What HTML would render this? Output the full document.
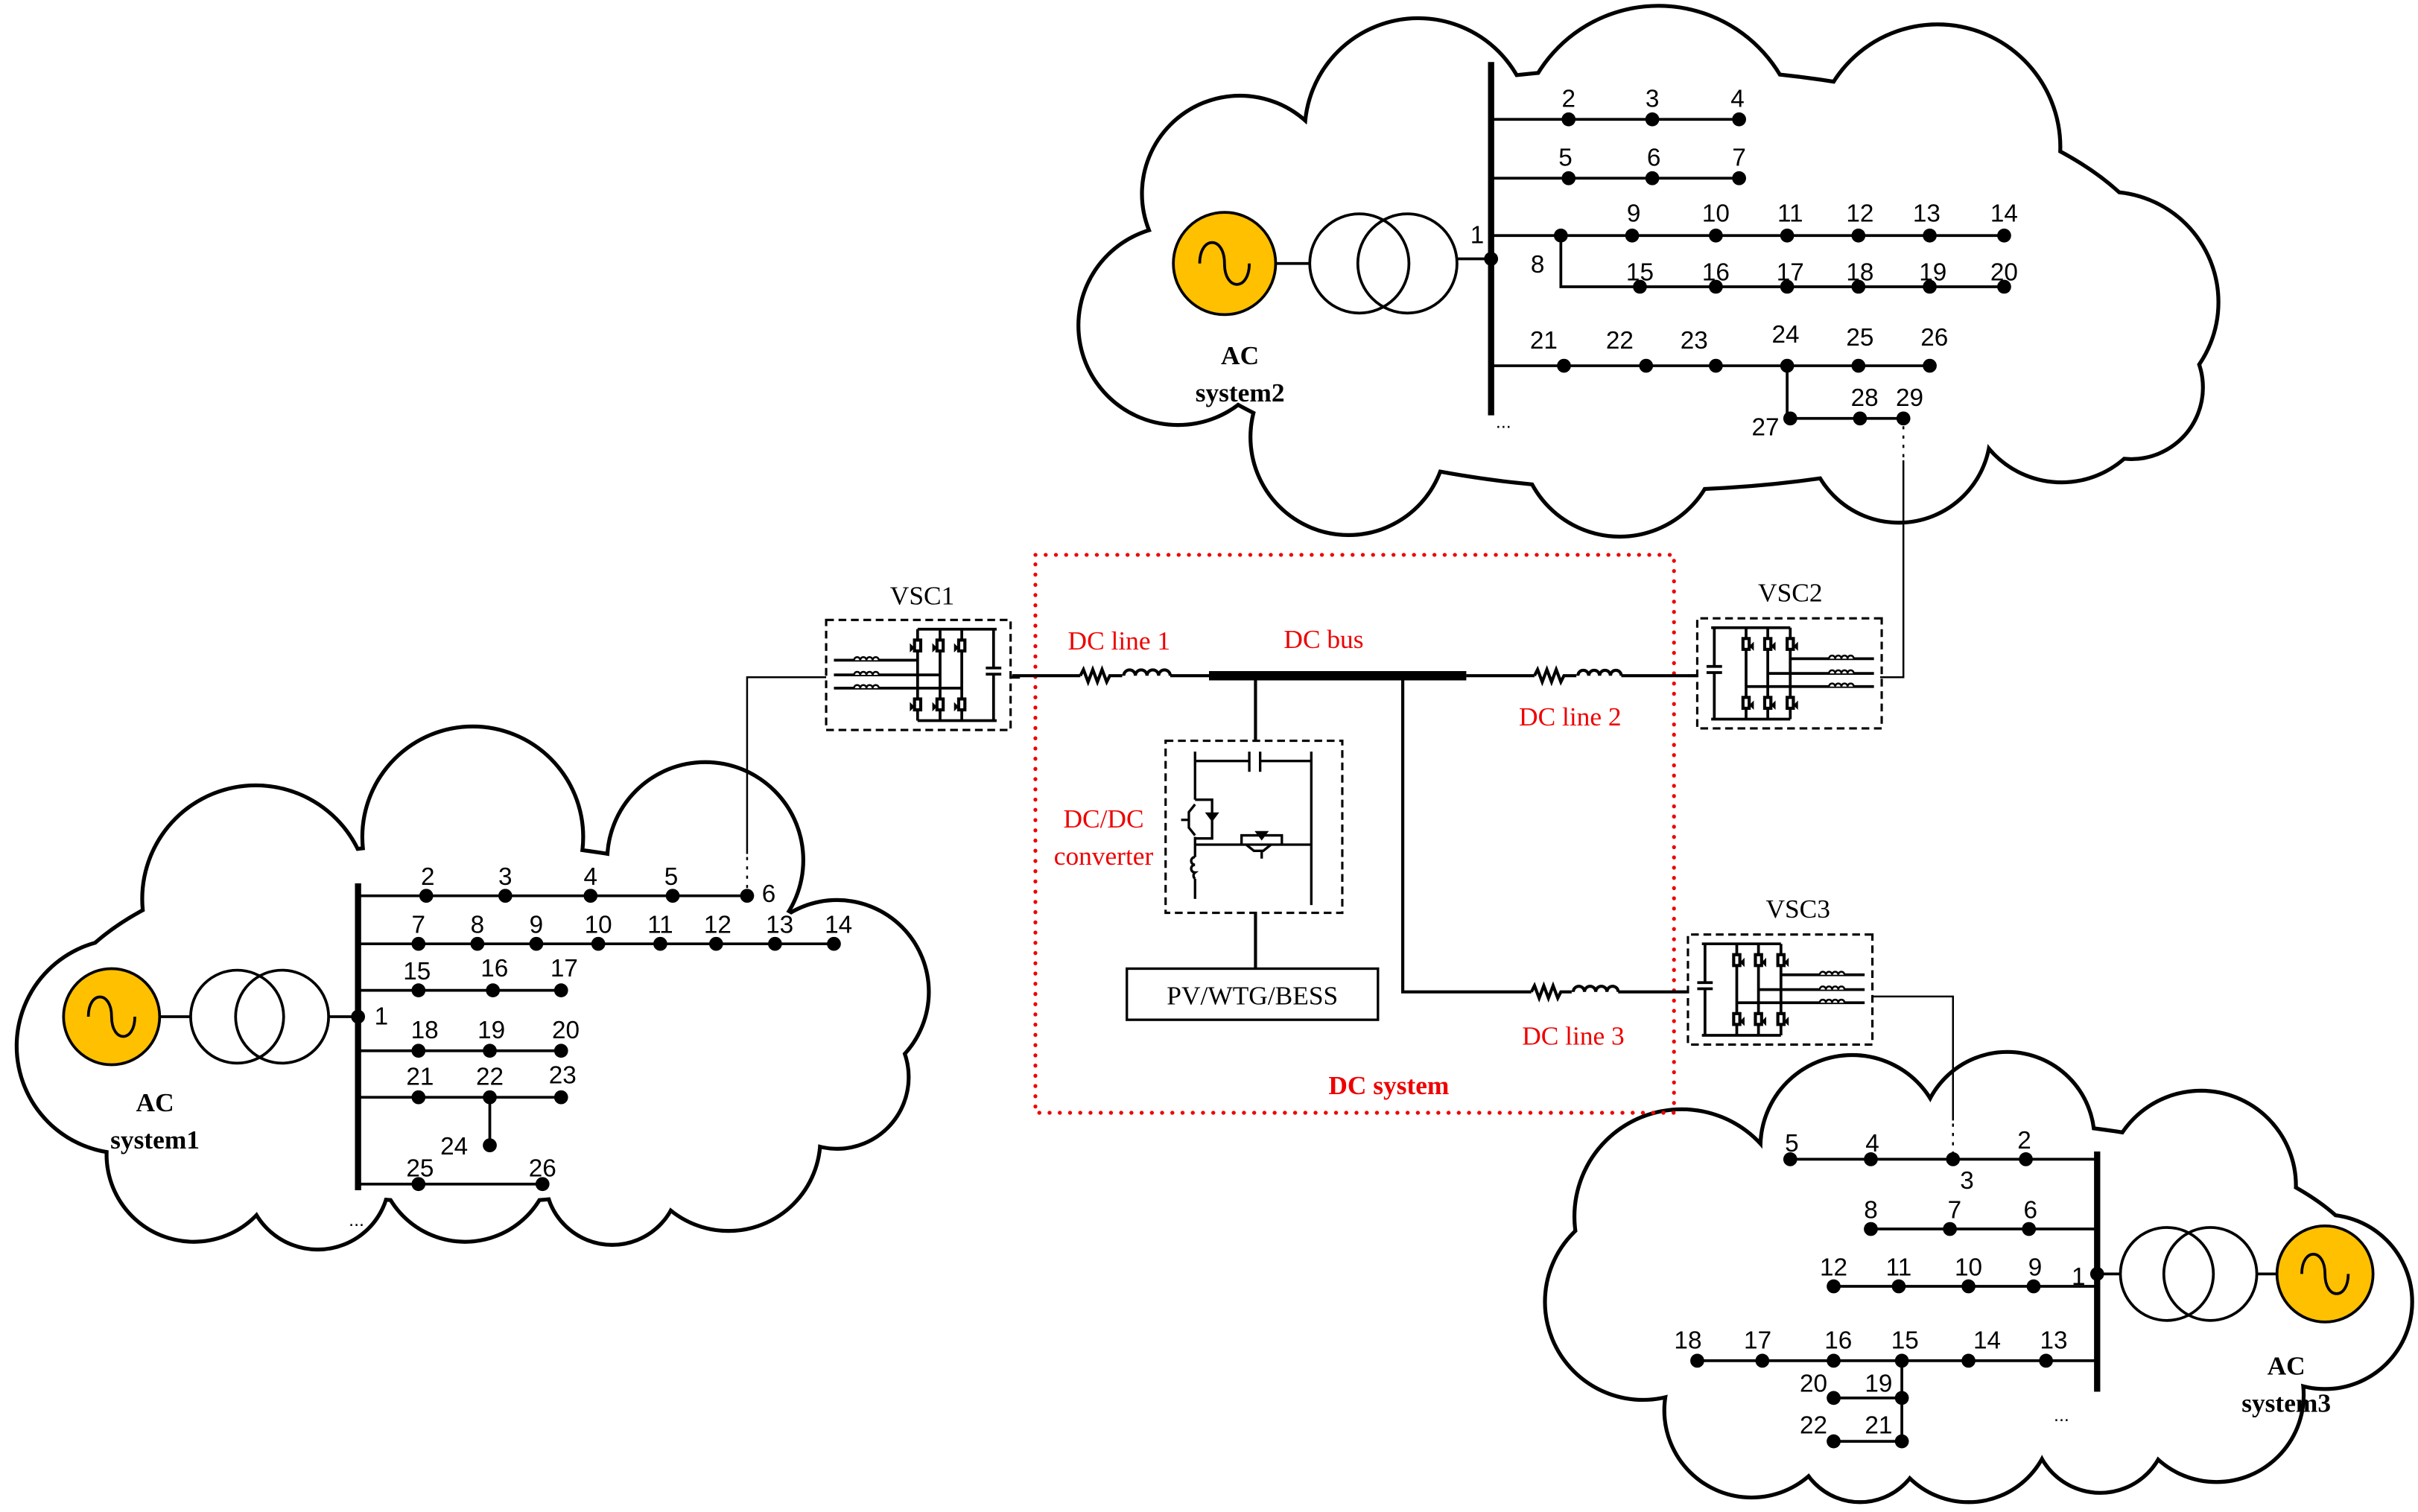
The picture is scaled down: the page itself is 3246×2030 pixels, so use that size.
<!DOCTYPE html>
<html><head><meta charset="utf-8"><style>
html,body{margin:0;padding:0;background:#fff}
svg{display:block}
.n{font-family:"Liberation Sans",sans-serif;font-size:16px;fill:#000;text-anchor:middle}
.s{font-family:"Liberation Serif",serif;font-size:17px;fill:#000;text-anchor:middle}
.b{font-family:"Liberation Serif",serif;font-size:17px;font-weight:bold;fill:#000;text-anchor:middle}
.r{font-family:"Liberation Serif",serif;font-size:17px;fill:#e00;text-anchor:middle}
.rb{font-family:"Liberation Serif",serif;font-size:17px;font-weight:bold;fill:#e00;text-anchor:middle}
</style></head><body>
<svg width="3246" height="2030" viewBox="0 0 1560 975.6" preserveAspectRatio="none" xmlns="http://www.w3.org/2000/svg">
<defs>
<g id="vsc">
 <rect x="0" y="0" width="119" height="71" fill="none" stroke="#000" stroke-width="1.5" stroke-dasharray="5,3"/>
 <g stroke="#000" stroke-width="1.8" fill="none">
  <line x1="5" y1="26" x2="59" y2="26"/><line x1="5" y1="35.5" x2="73.5" y2="35.5"/><line x1="5" y1="44" x2="87.5" y2="44"/>
  <line x1="59" y1="6" x2="59" y2="65"/><line x1="73.5" y1="6" x2="73.5" y2="65"/><line x1="87.5" y1="6" x2="87.5" y2="65"/>
  <line x1="59" y1="6" x2="110" y2="6"/><line x1="59" y1="65" x2="110" y2="65"/>
  <line x1="108" y1="6" x2="108" y2="31"/><line x1="108" y1="35" x2="108" y2="65"/>
  <line x1="103" y1="31" x2="113" y2="31"/><line x1="103" y1="35" x2="113" y2="35"/>
  <line x1="119" y1="37" x2="125" y2="37"/>
 </g>
 <g fill="#fff" stroke="#000" stroke-width="1.2">
  <path d="M18 26 a2 2 0 0 1 4 0 a2 2 0 0 1 4 0 a2 2 0 0 1 4 0 a2 2 0 0 1 4 0"/>
  <path d="M18 35.5 a2 2 0 0 1 4 0 a2 2 0 0 1 4 0 a2 2 0 0 1 4 0 a2 2 0 0 1 4 0"/>
  <path d="M18 44 a2 2 0 0 1 4 0 a2 2 0 0 1 4 0 a2 2 0 0 1 4 0 a2 2 0 0 1 4 0"/>
 </g>
 <g fill="#000">
  <path d="M56 12 h6 v9 h-6 z M54 15 l3 3 -3 3z"/><path d="M70.5 12 h6 v9 h-6 z M68.5 15 l3 3 -3 3z"/><path d="M84.5 12 h6 v9 h-6 z M82.5 15 l3 3 -3 3z"/>
  <path d="M56 50 h6 v9 h-6 z M54 53 l3 3 -3 3z"/><path d="M70.5 50 h6 v9 h-6 z M68.5 53 l3 3 -3 3z"/><path d="M84.5 50 h6 v9 h-6 z M82.5 53 l3 3 -3 3z"/>
 </g>
 <g fill="#fff"><rect x="58" y="14" width="2" height="5"/><rect x="72.5" y="14" width="2" height="5"/><rect x="86.5" y="14" width="2" height="5"/><rect x="58" y="52" width="2" height="5"/><rect x="72.5" y="52" width="2" height="5"/><rect x="86.5" y="52" width="2" height="5"/></g>
</g>
<g id="c2">
 <ellipse cx="1065" cy="180" rx="330" ry="135"/>
 <circle cx="800" cy="125" r="62"/><circle cx="915" cy="85" r="72"/><circle cx="1070" cy="95" r="90"/><circle cx="1250" cy="95" r="78"/>
 <circle cx="1360" cy="195" r="70"/><circle cx="760" cy="210" r="63"/><circle cx="870" cy="282" r="62"/><circle cx="1045" cy="282" r="63"/><circle cx="1225" cy="278" r="58"/><circle cx="1330" cy="250" r="60"/><circle cx="1375" cy="250" r="45"/>
</g>
<g id="c1">
 <ellipse cx="300" cy="660" rx="265" ry="115"/>
 <circle cx="165" cy="580" r="72"/><circle cx="305" cy="540" r="70"/><circle cx="455" cy="555" r="62"/><circle cx="540" cy="640" r="58"/>
 <circle cx="80" cy="675" r="68"/><circle cx="125" cy="745" r="55"/><circle cx="300" cy="745" r="55"/><circle cx="470" cy="735" r="58"/><circle cx="205" cy="760" r="45"/><circle cx="540" cy="695" r="45"/><circle cx="395" cy="760" r="42"/>
</g>
<g id="c3">
 <ellipse cx="1280" cy="830" rx="250" ry="105"/>
 <circle cx="1085" cy="785" r="68"/><circle cx="1195" cy="740" r="58"/><circle cx="1295" cy="735" r="55"/><circle cx="1420" cy="765" r="60"/>
 <circle cx="1500" cy="840" r="55"/><circle cx="1060" cy="840" r="62"/><circle cx="1130" cy="910" r="55"/><circle cx="1270" cy="915" r="53"/><circle cx="1430" cy="900" r="55"/><circle cx="1200" cy="928" r="40"/><circle cx="1355" cy="920" r="42"/>
</g>
</defs>

<g stroke="#000" stroke-width="5" fill="#000"><use href="#c2"/><use href="#c1"/><use href="#c3"/></g>
<g fill="#fff"><use href="#c2"/><use href="#c1"/><use href="#c3"/></g>

<!-- ===== AC system 2 ===== -->
<g stroke="#000" stroke-width="1.8" fill="none">
 <circle cx="790" cy="170" r="33" fill="#ffc000"/>
 <path d="M774 170 c0 -18 16 -18 16 0 c0 18 16 18 16 0"/>
 <circle cx="877" cy="170" r="32"/><circle cx="908" cy="170" r="32"/>
 <line x1="823" y1="170" x2="845" y2="170"/><line x1="940" y1="167" x2="962" y2="167"/>
 <line x1="962" y1="40" x2="962" y2="268" stroke-width="4"/>
 <line x1="962" y1="77" x2="1122" y2="77"/>
 <line x1="962" y1="115" x2="1122" y2="115"/>
 <line x1="962" y1="152" x2="1293" y2="152"/>
 <polyline points="1007,152 1007,185 1293,185"/>
 <line x1="962" y1="236" x2="1245" y2="236"/>
 <polyline points="1153,236 1153,270 1228,270"/>
 <line x1="1228" y1="275" x2="1228" y2="295" stroke-dasharray="2,4" stroke-width="1.2"/>
 <polyline points="1228,297 1228,437 1213,437" stroke-width="1.2"/>
</g>
<g fill="#000">
 <circle cx="962" cy="167" r="4.5"/>
 <circle cx="1012" cy="77" r="4.5"/><circle cx="1066" cy="77" r="4.5"/><circle cx="1122" cy="77" r="4.5"/>
 <circle cx="1012" cy="115" r="4.5"/><circle cx="1066" cy="115" r="4.5"/><circle cx="1122" cy="115" r="4.5"/>
 <circle cx="1007" cy="152" r="4.5"/><circle cx="1053" cy="152" r="4.5"/><circle cx="1107" cy="152" r="4.5"/><circle cx="1153" cy="152" r="4.5"/><circle cx="1199" cy="152" r="4.5"/><circle cx="1245" cy="152" r="4.5"/><circle cx="1293" cy="152" r="4.5"/>
 <circle cx="1058" cy="185" r="4.5"/><circle cx="1107" cy="185" r="4.5"/><circle cx="1153" cy="185" r="4.5"/><circle cx="1199" cy="185" r="4.5"/><circle cx="1245" cy="185" r="4.5"/><circle cx="1293" cy="185" r="4.5"/>
 <circle cx="1009" cy="236" r="4.5"/><circle cx="1062" cy="236" r="4.5"/><circle cx="1107" cy="236" r="4.5"/><circle cx="1153" cy="236" r="4.5"/><circle cx="1199" cy="236" r="4.5"/><circle cx="1245" cy="236" r="4.5"/>
 <circle cx="1155" cy="270" r="4.5"/><circle cx="1200" cy="270" r="4.5"/><circle cx="1228" cy="270" r="4.5"/>
</g>
<g class="n">
 <text x="953" y="157">1</text>
 <text x="1012" y="69">2</text><text x="1066" y="69">3</text><text x="1121" y="69">4</text>
 <text x="1010" y="107">5</text><text x="1067" y="107">6</text><text x="1122" y="107">7</text>
 <text x="1054" y="143">9</text><text x="1107" y="143">10</text><text x="1155" y="143">11</text><text x="1200" y="143">12</text><text x="1243" y="143">13</text><text x="1293" y="143">14</text>
 <text x="992" y="176">8</text>
 <text x="1058" y="181">15</text><text x="1107" y="181">16</text><text x="1155" y="181">17</text><text x="1200" y="181">18</text><text x="1247" y="181">19</text><text x="1293" y="181">20</text>
 <text x="996" y="225">21</text><text x="1045" y="225">22</text><text x="1093" y="225">23</text><text x="1152" y="221">24</text><text x="1200" y="223">25</text><text x="1248" y="223">26</text>
 <text x="1203" y="262">28</text><text x="1232" y="262">29</text><text x="1139" y="281">27</text>
 <text x="970" y="276" style="font-size:12px">...</text>
</g>
<text class="b" x="800" y="235">AC</text><text class="b" x="800" y="259">system2</text>

<!-- ===== AC system 1 ===== -->
<g stroke="#000" stroke-width="1.8" fill="none">
 <circle cx="72" cy="656" r="31" fill="#ffc000"/>
 <path d="M57 656 c0 -17 15 -17 15 0 c0 17 15 17 15 0"/>
 <circle cx="153" cy="656" r="30"/><circle cx="182" cy="656" r="30"/>
 <line x1="103" y1="656" x2="123" y2="656"/><line x1="212" y1="656" x2="231" y2="656"/>
 <line x1="231" y1="570" x2="231" y2="768" stroke-width="4"/>
 <line x1="231" y1="578" x2="482" y2="578"/>
 <line x1="231" y1="609" x2="538" y2="609"/>
 <line x1="231" y1="639" x2="362" y2="639"/>
 <line x1="231" y1="678" x2="362" y2="678"/>
 <line x1="231" y1="708" x2="362" y2="708"/>
 <line x1="316" y1="708" x2="316" y2="739"/>
 <line x1="231" y1="764" x2="350" y2="764"/>
 <line x1="482" y1="553" x2="482" y2="573" stroke-dasharray="2,4" stroke-width="1.2"/>
 <polyline points="482,551 482,437 533,437" stroke-width="1.2"/>
</g>
<g fill="#000">
 <circle cx="231" cy="656" r="4.5"/>
 <circle cx="275" cy="578" r="4.5"/><circle cx="326" cy="578" r="4.5"/><circle cx="381" cy="578" r="4.5"/><circle cx="434" cy="578" r="4.5"/><circle cx="482" cy="578" r="4.5"/>
 <circle cx="270" cy="609" r="4.5"/><circle cx="308" cy="609" r="4.5"/><circle cx="346" cy="609" r="4.5"/><circle cx="386" cy="609" r="4.5"/><circle cx="426" cy="609" r="4.5"/><circle cx="462" cy="609" r="4.5"/><circle cx="500" cy="609" r="4.5"/><circle cx="538" cy="609" r="4.5"/>
 <circle cx="270" cy="639" r="4.5"/><circle cx="318" cy="639" r="4.5"/><circle cx="362" cy="639" r="4.5"/>
 <circle cx="270" cy="678" r="4.5"/><circle cx="316" cy="678" r="4.5"/><circle cx="362" cy="678" r="4.5"/>
 <circle cx="270" cy="708" r="4.5"/><circle cx="316" cy="708" r="4.5"/><circle cx="362" cy="708" r="4.5"/>
 <circle cx="316" cy="739" r="4.5"/>
 <circle cx="270" cy="764" r="4.5"/><circle cx="350" cy="764" r="4.5"/>
</g>
<g class="n">
 <text x="246" y="661">1</text>
 <text x="276" y="571">2</text><text x="326" y="571">3</text><text x="381" y="571">4</text><text x="433" y="571">5</text><text x="496" y="582">6</text>
 <text x="270" y="602">7</text><text x="308" y="602">8</text><text x="346" y="602">9</text><text x="386" y="602">10</text><text x="426" y="602">11</text><text x="463" y="602">12</text><text x="503" y="602">13</text><text x="541" y="602">14</text>
 <text x="269" y="632">15</text><text x="319" y="630">16</text><text x="364" y="630">17</text>
 <text x="274" y="670">18</text><text x="317" y="670">19</text><text x="365" y="670">20</text>
 <text x="271" y="700">21</text><text x="316" y="700">22</text><text x="363" y="699">23</text>
 <text x="293" y="745">24</text>
 <text x="271" y="759">25</text><text x="350" y="759">26</text>
 <text x="230" y="791" style="font-size:12px">...</text>
</g>
<text class="b" x="100" y="717">AC</text><text class="b" x="100" y="741">system1</text>

<!-- ===== AC system 3 ===== -->
<g stroke="#000" stroke-width="1.8" fill="none">
 <circle cx="1500" cy="822" r="31" fill="#ffc000"/>
 <path d="M1485 822 c0 -17 15 -17 15 0 c0 17 15 17 15 0"/>
 <circle cx="1398" cy="822" r="30"/><circle cx="1426" cy="822" r="30"/>
 <line x1="1353" y1="822" x2="1368" y2="822"/><line x1="1456" y1="822" x2="1469" y2="822"/>
 <line x1="1353" y1="743" x2="1353" y2="898" stroke-width="4"/>
 <line x1="1155" y1="748" x2="1353" y2="748"/>
 <line x1="1207" y1="793" x2="1353" y2="793"/>
 <line x1="1183" y1="830" x2="1353" y2="830"/>
 <line x1="1095" y1="878" x2="1353" y2="878"/>
 <line x1="1227" y1="878" x2="1227" y2="930"/>
 <line x1="1183" y1="902" x2="1227" y2="902"/>
 <line x1="1183" y1="930" x2="1227" y2="930"/>
 <line x1="1260" y1="725" x2="1260" y2="745" stroke-dasharray="2,4" stroke-width="1.2"/>
 <polyline points="1260,723 1260,643 1208,643" stroke-width="1.2"/>
</g>
<g fill="#000">
 <circle cx="1353" cy="822" r="4.5"/>
 <circle cx="1155" cy="748" r="4.5"/><circle cx="1207" cy="748" r="4.5"/><circle cx="1260" cy="748" r="4.5"/><circle cx="1307" cy="748" r="4.5"/>
 <circle cx="1207" cy="793" r="4.5"/><circle cx="1258" cy="793" r="4.5"/><circle cx="1309" cy="793" r="4.5"/>
 <circle cx="1183" cy="830" r="4.5"/><circle cx="1225" cy="830" r="4.5"/><circle cx="1270" cy="830" r="4.5"/><circle cx="1312" cy="830" r="4.5"/>
 <circle cx="1095" cy="878" r="4.5"/><circle cx="1137" cy="878" r="4.5"/><circle cx="1183" cy="878" r="4.5"/><circle cx="1227" cy="878" r="4.5"/><circle cx="1270" cy="878" r="4.5"/><circle cx="1320" cy="878" r="4.5"/>
 <circle cx="1183" cy="902" r="4.5"/><circle cx="1227" cy="902" r="4.5"/>
 <circle cx="1183" cy="930" r="4.5"/><circle cx="1227" cy="930" r="4.5"/>
</g>
<g class="n">
 <text x="1341" y="829">1</text>
 <text x="1156" y="743">5</text><text x="1208" y="743">4</text><text x="1269" y="767">3</text><text x="1306" y="741">2</text>
 <text x="1207" y="786">8</text><text x="1261" y="786">7</text><text x="1310" y="786">6</text>
 <text x="1183" y="823">12</text><text x="1225" y="823">11</text><text x="1270" y="823">10</text><text x="1313" y="823">9</text>
 <text x="1089" y="870">18</text><text x="1134" y="870">17</text><text x="1186" y="870">16</text><text x="1229" y="870">15</text><text x="1282" y="870">14</text><text x="1325" y="870">13</text>
 <text x="1170" y="898">20</text><text x="1212" y="898">19</text>
 <text x="1170" y="925">22</text><text x="1212" y="925">21</text>
 <text x="1330" y="917" style="font-size:12px">...</text>
</g>
<text class="b" x="1475" y="887">AC</text><text class="b" x="1475" y="911">system3</text>

<!-- ===== DC system ===== -->
<rect x="668" y="358" width="412" height="360" fill="none" stroke="#e00" stroke-width="2.5" stroke-dasharray="0.1,6.5" stroke-linecap="round"/>
<use href="#vsc" transform="translate(533,400)"/>
<use href="#vsc" transform="translate(1214,399) scale(-1,1)"/>
<use href="#vsc" transform="translate(1208,603) scale(-1,1)"/>
<text class="s" x="595" y="390">VSC1</text>
<text class="s" x="1155" y="388">VSC2</text>
<text class="s" x="1160" y="592">VSC3</text>

<g stroke="#000" stroke-width="2" fill="none">
 <line x1="653" y1="436" x2="697" y2="436"/>
 <path d="M697 436 l2 -4 l3 8 l3 -8 l3 8 l3 -8 l3 8 l2 -4 h8"/>
 <path d="M725 436 a3.75 3.75 0 0 1 7.5 0 a3.75 3.75 0 0 1 7.5 0 a3.75 3.75 0 0 1 7.5 0 a3.75 3.75 0 0 1 7.5 0"/>
 <line x1="755" y1="436" x2="780" y2="436"/>
 <line x1="780" y1="436" x2="946" y2="436" stroke-width="6"/>
 <line x1="946" y1="436" x2="990" y2="436"/>
 <path d="M990 436 l2 -4 l3 8 l3 -8 l3 8 l3 -8 l3 8 l2 -4 h8"/>
 <path d="M1018 436 a3.5 3.5 0 0 1 7 0 a3.5 3.5 0 0 1 7 0 a3.5 3.5 0 0 1 7 0 a3.5 3.5 0 0 1 7 0"/>
 <line x1="1046" y1="436" x2="1095" y2="436"/>
 <line x1="810" y1="436" x2="810" y2="478"/>
 <polyline points="905,436 905,640 988,640"/>
 <path d="M988 640 l2 -4 l3 8 l3 -8 l3 8 l3 -8 l3 8 l2 -4 h7"/>
 <path d="M1015 640 a3.6 3.6 0 0 1 7.25 0 a3.6 3.6 0 0 1 7.25 0 a3.6 3.6 0 0 1 7.25 0 a3.6 3.6 0 0 1 7.25 0"/>
 <line x1="1044" y1="640" x2="1088" y2="640"/>
 <line x1="810" y1="589" x2="810" y2="625"/>
</g>
<rect x="752" y="478" width="114" height="111" fill="none" stroke="#000" stroke-width="1.5" stroke-dasharray="5,3"/>
<g stroke="#000" stroke-width="1.6" fill="none">
 <line x1="771" y1="485" x2="771" y2="516"/>
 <line x1="771" y1="540" x2="771" y2="553"/>
 <line x1="771" y1="567" x2="771" y2="580"/>
 <line x1="846" y1="485" x2="846" y2="584"/>
 <line x1="771" y1="491" x2="806" y2="491"/><line x1="813" y1="491" x2="846" y2="491"/>
 <line x1="806" y1="485" x2="806" y2="498"/><line x1="813" y1="485" x2="813" y2="498"/>
 <path d="M771 516 h11 v25 h-11"/>
 <path d="M771 519 l-4 5 v10 l4 5 M762 529 h5"/>
 <path d="M779 525 l3 4 l3 -4 z" fill="#000"/>
 <line x1="771" y1="545" x2="846" y2="545"/>
 <path d="M801 545 v-6 h26 v6"/>
 <path d="M804 545 l5 4 h6 l5 -4 M814 549 v5"/>
 <path d="M811 537 l3 4 l3 -4z" fill="#000"/>
 <path d="M771 553 a2.5 2.5 0 0 0 0 5 a2.5 2.5 0 0 0 0 5 a2.5 2.5 0 0 0 0 4"/>
</g>
<rect x="727" y="625" width="162" height="33" fill="#fff" stroke="#000" stroke-width="1.6"/>
<text class="s" x="808" y="648">PV/WTG/BESS</text>

<text class="r" x="722" y="419">DC line 1</text>
<text class="r" x="854" y="418">DC bus</text>
<text class="r" x="1013" y="468">DC line 2</text>
<text class="r" x="1015" y="674">DC line 3</text>
<text class="r" x="712" y="534">DC/DC</text>
<text class="r" x="712" y="558">converter</text>
<text class="rb" x="896" y="706">DC system</text>
</svg>
</body></html>
